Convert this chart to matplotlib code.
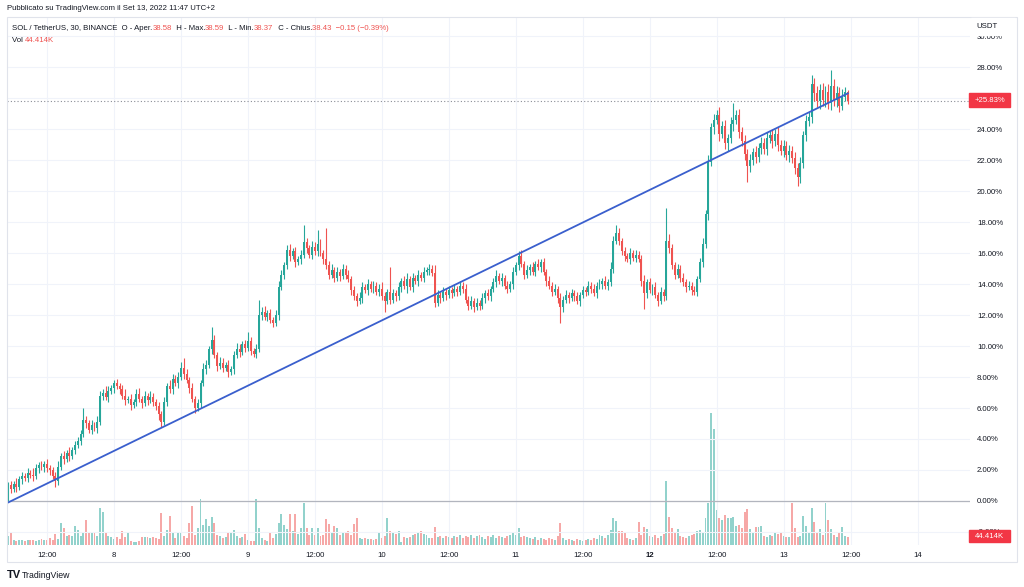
import pandas as pd
import matplotlib.pyplot as plt
from matplotlib.patches import Rectangle
from matplotlib.transforms import Bbox

# SOL/USDT 30m, percent change vs the first bar (base price 30.54)
t0 = pd.Timestamp("2022-09-07 05:00")

closes = [
    1.0, 0.8, 1.1, 0.9, 1.4, 1.6, 1.5, 1.8, 1.7, 1.6, 2.1, 2.3, 2.2, 2.4, 2.1, 2.0, 1.6, 1.3, 2.2, 2.9,
    2.7, 3.1, 2.9, 3.3, 3.6, 3.9, 4.3, 5.2, 5.0, 4.6, 4.9, 4.7, 5.1, 6.8, 7.0, 6.7, 7.1, 7.3, 7.6, 7.4,
    7.2, 6.8, 6.5, 6.6, 6.2, 6.4, 6.9, 6.6, 6.3, 6.8, 6.5, 6.7, 6.4, 6.1, 5.6, 5.1, 6.4, 7.4, 7.2, 7.9,
    7.6, 8.0, 8.6, 8.2, 7.8, 7.3, 6.6, 6.0, 6.3, 7.6, 8.5, 8.8, 9.8, 10.4, 9.4, 8.7, 8.9, 8.6, 8.8, 8.3,
    8.5, 9.4, 9.8, 9.6, 10.1, 9.9, 10.3, 9.7, 9.5, 9.8, 12.0, 12.2, 11.9, 12.1, 11.7, 11.5, 12.0, 13.8, 14.6, 15.2,
    16.2, 15.8, 16.1, 15.4, 15.6, 15.9, 16.7, 16.3, 15.9, 16.4, 16.1, 16.6, 16.0, 15.6, 15.2, 14.6, 14.9, 14.4, 14.8, 14.5,
    15.0, 14.6, 14.3, 13.6, 13.2, 12.9, 13.1, 13.8, 13.6, 14.0, 13.7, 13.9, 13.5, 13.7, 13.2, 12.9, 13.5, 13.0, 13.4, 13.2,
    13.8, 14.2, 13.9, 14.3, 13.8, 14.4, 14.2, 14.6, 14.4, 14.8, 14.9, 15.0, 14.7, 12.8, 13.3, 13.1, 13.5, 13.3, 13.6, 13.4,
    13.7, 13.5, 13.9, 13.7, 13.0, 12.6, 12.9, 12.5, 12.8, 12.6, 13.1, 13.4, 13.2, 13.7, 14.1, 14.5, 14.2, 14.4, 13.9, 13.7,
    14.0, 14.8, 15.2, 15.8, 15.3, 14.6, 14.9, 15.1, 14.8, 15.3, 15.1, 15.4, 14.8, 14.2, 13.9, 13.5, 13.7, 13.1, 12.5, 13.0,
    13.3, 13.1, 13.4, 13.2, 12.9, 13.3, 13.6, 13.5, 13.9, 13.7, 13.4, 13.9, 14.0, 14.2, 13.9, 14.1, 15.0, 16.8, 17.3, 16.8,
    16.1, 15.8, 15.6, 16.0, 15.7, 15.9, 15.6, 14.2, 13.4, 14.1, 13.6, 13.8, 13.3, 12.9, 13.5, 13.2, 16.8, 16.3, 15.2, 14.6,
    15.0, 14.4, 14.1, 13.8, 13.9, 13.6, 13.5, 14.3, 15.4, 16.6, 18.5, 21.9, 24.1, 24.6, 24.9, 23.7, 24.2, 23.1, 23.4, 24.3,
    24.6, 24.9, 23.8, 23.2, 22.4, 21.6, 22.0, 22.5, 22.2, 22.8, 23.1, 22.7, 23.4, 23.6, 23.2, 23.7, 23.0, 22.6, 22.9, 22.3,
    22.6, 22.1, 21.5, 20.9, 21.8, 23.6, 24.5, 24.8, 26.9, 26.3, 25.8, 26.5, 25.9, 26.4, 25.7, 26.8, 25.9, 26.3, 25.5, 26.1,
    26.4, 25.83,
]

# wick length above / below the body, in percent points
upper_wick = [
    0.2, 0.3, 0.2, 0.4, 0.2, 0.3, 0.2, 0.3, 0.2, 0.4, 0.3, 0.2, 0.3, 0.2, 0.3, 0.2, 0.2, 0.3, 0.4, 0.2,
    0.3, 0.2, 0.4, 0.2, 0.3, 0.2, 0.3, 0.8, 0.3, 0.2, 0.3, 0.2, 0.4, 0.3, 0.2, 0.4, 0.3, 0.2, 0.2, 0.3,
    0.2, 0.3, 0.4, 0.2, 0.3, 0.2, 0.3, 0.4, 0.2, 0.3, 0.2, 0.4, 0.3, 0.2, 0.3, 0.2, 0.3, 0.2, 0.4, 0.3,
    0.2, 0.3, 0.4, 0.6, 0.3, 0.2, 0.3, 0.2, 0.3, 0.2, 0.4, 0.3, 0.2, 0.8, 0.3, 0.2, 0.4, 0.3, 0.2, 0.3,
    0.2, 0.3, 0.4, 0.3, 0.2, 0.3, 0.6, 0.3, 0.2, 0.3, 1.0, 0.3, 0.4, 0.2, 0.3, 0.2, 0.3, 0.4, 0.3, 0.2,
    0.3, 0.4, 0.2, 0.3, 0.2, 0.3, 1.1, 0.3, 0.2, 0.4, 0.3, 0.9, 0.3, 0.2, 2.0, 0.3, 0.4, 0.2, 0.3, 0.2,
    0.3, 0.2, 0.3, 0.2, 0.3, 0.2, 0.4, 0.3, 0.2, 0.3, 0.2, 0.3, 0.2, 0.3, 0.4, 0.3, 0.2, 1.6, 0.3, 0.2,
    0.3, 0.2, 0.3, 0.4, 0.2, 0.3, 0.2, 0.3, 0.2, 0.3, 0.2, 0.3, 0.2, 0.5, 0.3, 0.2, 0.3, 0.2, 0.3, 0.2,
    0.3, 0.2, 0.3, 0.2, 0.3, 0.2, 0.3, 0.2, 0.3, 0.2, 0.3, 0.2, 0.3, 0.2, 0.3, 0.4, 0.2, 0.3, 0.2, 0.3,
    0.2, 0.3, 0.2, 0.3, 0.4, 0.2, 0.3, 0.2, 0.3, 0.2, 0.3, 0.2, 0.3, 0.2, 0.3, 0.2, 0.3, 0.2, 0.3, 0.2,
    0.3, 0.2, 0.3, 0.2, 0.3, 0.2, 0.3, 0.2, 0.3, 0.2, 0.3, 0.2, 0.3, 0.2, 0.3, 0.2, 0.4, 0.3, 0.5, 0.3,
    0.2, 0.3, 0.2, 0.3, 0.2, 0.3, 0.2, 0.3, 0.4, 0.2, 0.3, 0.2, 0.3, 0.2, 0.3, 0.2, 2.1, 0.4, 0.3, 0.2,
    0.3, 0.2, 0.3, 0.2, 0.3, 0.2, 0.3, 0.2, 0.3, 0.4, 0.3, 0.4, 0.3, 0.4, 0.3, 0.5, 0.3, 0.4, 0.3, 0.5,
    1.1, 0.3, 0.4, 0.3, 0.4, 0.3, 0.4, 0.3, 0.4, 0.3, 0.4, 0.3, 0.4, 0.3, 0.4, 0.3, 0.4, 0.3, 0.4, 0.3,
    0.4, 0.3, 0.4, 0.3, 0.4, 0.3, 0.4, 0.3, 0.6, 0.4, 0.5, 0.4, 0.5, 0.4, 0.5, 1.0, 0.4, 0.5, 0.4, 0.5,
    0.3, 0.1,
]
lower_wick = [
    0.0, 0.3, 0.2, 0.3, 0.2, 0.3, 0.2, 0.3, 0.2, 0.3, 0.2, 0.3, 0.2, 0.3, 0.2, 0.3, 0.2, 0.4, 0.3, 0.2,
    0.3, 0.2, 0.3, 0.2, 0.3, 0.2, 0.3, 0.2, 0.3, 0.2, 0.3, 0.2, 0.3, 0.2, 0.3, 0.2, 0.3, 0.2, 0.3, 0.2,
    0.3, 0.2, 0.3, 0.2, 0.3, 0.2, 0.3, 0.2, 0.3, 0.2, 0.3, 0.2, 0.3, 0.2, 0.4, 0.3, 0.2, 0.3, 0.2, 0.3,
    0.2, 0.3, 0.2, 0.3, 0.2, 0.3, 0.2, 0.3, 0.2, 0.3, 0.2, 0.3, 0.2, 0.3, 0.2, 0.3, 0.2, 0.3, 0.2, 0.3,
    0.2, 0.3, 0.2, 0.3, 0.2, 0.3, 0.2, 0.3, 0.2, 0.3, 0.2, 0.3, 0.2, 0.3, 0.2, 0.3, 0.2, 0.3, 0.2, 0.3,
    0.2, 0.3, 0.2, 0.3, 0.2, 0.3, 0.2, 0.3, 0.2, 0.3, 0.2, 0.3, 0.2, 0.3, 0.2, 0.3, 0.2, 0.3, 0.2, 0.3,
    0.2, 0.3, 0.2, 0.3, 0.2, 0.3, 0.2, 0.3, 0.2, 0.3, 0.2, 0.3, 0.2, 0.3, 0.2, 0.7, 0.2, 0.3, 0.2, 0.3,
    0.2, 0.3, 0.2, 0.5, 0.2, 0.3, 0.2, 0.3, 0.2, 0.3, 0.2, 0.3, 0.2, 0.3, 0.2, 0.3, 0.2, 0.3, 0.2, 0.3,
    0.2, 0.3, 0.2, 0.3, 0.2, 0.3, 0.2, 0.3, 0.2, 0.3, 0.2, 0.3, 0.2, 0.3, 0.2, 0.3, 0.2, 0.3, 0.2, 0.3,
    0.2, 0.3, 0.2, 0.3, 0.2, 0.3, 0.2, 0.3, 0.2, 0.3, 0.2, 0.3, 0.2, 0.3, 0.2, 0.3, 0.2, 0.3, 1.0, 0.3,
    0.2, 0.3, 0.2, 0.3, 0.2, 0.3, 0.2, 0.3, 0.2, 0.3, 0.2, 0.3, 0.2, 0.3, 0.2, 0.3, 0.2, 0.3, 0.2, 0.3,
    0.2, 0.3, 0.2, 0.3, 0.2, 0.3, 0.2, 0.3, 1.0, 0.3, 0.2, 0.3, 0.2, 0.3, 0.2, 0.3, 0.2, 0.3, 0.2, 0.3,
    0.2, 0.3, 0.2, 0.3, 0.2, 0.3, 0.2, 0.3, 0.2, 0.3, 0.3, 0.4, 0.3, 0.4, 0.3, 0.5, 0.3, 0.4, 0.5, 0.3,
    0.4, 0.3, 0.4, 0.3, 0.4, 1.0, 0.4, 0.3, 0.4, 0.3, 0.4, 0.3, 0.4, 0.3, 0.4, 0.3, 0.4, 0.3, 0.4, 0.3,
    0.4, 0.3, 0.4, 0.6, 0.4, 0.3, 0.4, 0.3, 0.4, 0.5, 0.4, 0.5, 0.4, 0.5, 0.4, 0.5, 0.4, 0.5, 0.4, 0.3,
    0.3, 0.2,
]

# volume in thousands
volume_k = [
    50, 66, 28, 22, 28, 27, 23, 28, 27, 28, 22, 28, 33, 27, 28, 39, 28, 61, 33, 121,
    94, 50, 55, 50, 105, 83, 50, 66, 138, 66, 72, 66, 50, 204, 182, 66, 50, 44, 33, 44,
    33, 77, 44, 66, 22, 17, 17, 22, 44, 44, 44, 39, 44, 39, 33, 176, 50, 83, 160, 66,
    39, 72, 66, 50, 39, 121, 215, 55, 94, 253, 110, 143, 105, 154, 121, 55, 50, 39, 44, 66,
    72, 83, 50, 39, 44, 61, 28, 22, 22, 253, 94, 39, 28, 22, 72, 39, 61, 121, 171, 110,
    88, 171, 77, 171, 61, 94, 231, 94, 55, 94, 55, 94, 50, 55, 143, 116, 66, 105, 94, 55,
    66, 66, 77, 55, 116, 149, 39, 33, 39, 33, 33, 28, 33, 72, 39, 50, 149, 77, 66, 61,
    77, 17, 44, 39, 44, 55, 61, 66, 77, 61, 55, 39, 39, 99, 44, 50, 39, 50, 44, 39,
    50, 44, 55, 39, 50, 44, 55, 39, 50, 55, 44, 33, 50, 44, 55, 39, 50, 44, 39, 50,
    55, 72, 55, 94, 44, 50, 44, 39, 33, 44, 28, 39, 33, 28, 39, 33, 28, 50, 121, 39,
    28, 33, 28, 22, 33, 28, 22, 28, 33, 28, 39, 33, 55, 50, 39, 55, 83, 149, 132, 77,
    77, 72, 39, 33, 28, 39, 127, 55, 99, 88, 50, 44, 55, 39, 50, 61, 352, 154, 94, 66,
    88, 50, 44, 39, 50, 55, 61, 77, 83, 66, 149, 231, 726, 638, 193, 149, 138, 165, 149, 149,
    154, 105, 110, 94, 182, 198, 88, 66, 99, 99, 105, 50, 44, 55, 50, 66, 61, 66, 50, 44,
    44, 231, 94, 44, 50, 160, 105, 66, 204, 127, 72, 88, 55, 231, 138, 88, 55, 44, 72, 99,
    50, 44.414,
]

# trend line drawn on the chart (time, percent)
trend_from = ("2022-09-07 05:00", -0.1)
trend_to = ("2022-09-13 11:30", 26.3)

last_pct = 25.83
green = "#26a69a"
red = "#ef5350"
text_col = "#131722"
fs = 5.6

W, H = 1024, 587


def fx(px):
    return px / W


def fy(py):
    return 1 - py / H


def idx(ts):
    return (pd.Timestamp(ts) - t0) / pd.Timedelta("30min")


n = len(closes)
xs = list(range(n))
opens = [0.0] + closes[:-1]
cols = [green if c >= o else red for o, c in zip(opens, closes)]
highs = [max(o, c) + u for o, c, u in zip(opens, closes, upper_wick)]
lows = [min(o, c) - d for o, c, d in zip(opens, closes, lower_wick)]

plt.rcParams["font.family"] = ["Liberation Sans", "DejaVu Sans"]
fig = plt.figure(figsize=(10.24, 5.87), dpi=100)
rect = [fx(7), fy(545), fx(970) - fx(7), fy(17) - fy(545)]

# --- volume pane (behind) ---
axv = fig.add_axes(rect)
vol_cols = [(0.149, 0.651, 0.604, 0.5) if c == green else (0.937, 0.325, 0.314, 0.5) for c in cols]
axv.bar(xs, volume_k, width=0.7, color=vol_cols, linewidth=0)
axv.set_ylim(0, 2904)
axv.set_xlim(-0.36, 344.8)
axv.axis("off")

# --- price pane ---
ax = fig.add_axes(rect)
ax.patch.set_visible(False)
ax.set_xlim(-0.36, 344.8)
ax.set_ylim(-2.84, 31.23)

ax.vlines(xs, lows, highs, colors=cols, linewidth=0.8, zorder=3)
body_lo = [min(o, c) for o, c in zip(opens, closes)]
body_h = [max(abs(c - o), 0.06) for o, c in zip(opens, closes)]
ax.bar(xs, body_h, bottom=body_lo, width=0.7, color=cols, linewidth=0, zorder=4)

ax.plot([idx(trend_from[0]), idx(trend_to[0])], [trend_from[1], trend_to[1]],
        color="#3a5fcd", linewidth=1.3, zorder=5)

ax.axhline(0, color="#b2b5be", linewidth=0.9, zorder=2)
ax.axhline(last_pct, color="#8a8d96", linewidth=0.8, linestyle=(0, (1, 2)), zorder=2)

tick_times = pd.date_range("2022-09-07 12:00", "2022-09-14 00:00", freq="12h")
tick_pos = [idx(t) for t in tick_times]
tick_lab = ["12:00" if t.hour == 12 else str(t.day) for t in tick_times]
ax.set_xticks(tick_pos)
ax.set_xticklabels(tick_lab)
for t, lab in zip(tick_times, ax.get_xticklabels()):
    if t.hour == 0 and t.dayofweek == 0:
        lab.set_fontweight("bold")

# 26% sits under the last-price tag, so it is not shown
yt = list(range(-2, 31, 2))
ax.yaxis.tick_right()
ax.set_yticks(yt)
ax.set_yticklabels(["" if v == 26 else f"{v:.2f}%" for v in yt])
ax.tick_params(length=0, labelsize=fs, colors=text_col)
ax.tick_params(axis="y", pad=5)
ax.tick_params(axis="x", pad=5)
ax.grid(True, color="#f0f3fa", linewidth=0.8)
ax.set_axisbelow(True)
for s in ax.spines.values():
    s.set_visible(False)

# -2% label only peeks out above the volume tag
fig.canvas.draw()
for v, lab in zip(yt, ax.get_yticklabels()):
    if v == -2:
        lab.set_clip_box(Bbox.from_extents(960, H - 530, 1024, H))
        lab.set_clip_on(True)

# outer frame
fig.patches.append(Rectangle((fx(7), fy(562)), fx(1017) - fx(7), fy(17) - fy(562),
                             transform=fig.transFigure, fill=False, edgecolor="#e0e3eb", linewidth=0.8))
# top of the 30% label is hidden under the USDT caption
fig.patches.append(Rectangle((fx(971), fy(35)), fx(1015) - fx(971), fy(18) - fy(35),
                             transform=fig.transFigure, color="white", zorder=2))
fig.text(fx(976), fy(26), "USDT", fontsize=fs, color=text_col, va="center", zorder=4)

# price / volume tags on the right scale
for py0, py1, txt in [(93, 107, f"+{last_pct:.2f}%"), (530, 542, f"{volume_k[-1]:.3f}K")]:
    fig.patches.append(Rectangle((fx(969), fy(py1)), fx(1010) - fx(969), fy(py0) - fy(py1),
                                 transform=fig.transFigure, color="#f23645", zorder=2))
    fig.text(fx(989.5), fy((py0 + py1) / 2), txt, fontsize=fs, color="white",
             ha="center", va="center", zorder=4)

# header
fig.text(fx(7), fy(8), "Pubblicato su TradingView.com il Set 13, 2022 11:47 UTC+2",
         fontsize=fs, color=text_col, va="center")

parts = [
    ("SOL / TetherUS, 30, BINANCE  O - Aper.", text_col), ("38.58", red),
    ("  H - Max.", text_col), ("38.59", red),
    ("  L - Min.", text_col), ("38.37", red),
    ("  C - Chius.", text_col), ("38.43  \u22120.15 (\u22120.39%)", red),
]
prev = fig.text(fx(12), fy(32), parts[0][0], fontsize=fs, color=parts[0][1], va="bottom")
for txt, c in parts[1:]:
    prev = ax.annotate(txt, xy=(1, 0), xycoords=prev, fontsize=fs, color=c,
                       va="bottom", ha="left", annotation_clip=False)

prev = fig.text(fx(12), fy(44), "Vol ", fontsize=fs, color=text_col, va="bottom")
ax.annotate(f"{volume_k[-1]:.3f}K", xy=(1, 0), xycoords=prev, fontsize=fs, color=red,
            va="bottom", ha="left", annotation_clip=False)

# logo
fig.text(fx(7), fy(575), "TV", fontsize=8, fontweight="bold", color=text_col, va="center")
fig.text(fx(22), fy(575), "TradingView", fontsize=6.3, color=text_col, va="center")

fig.savefig("out.png", dpi=100, facecolor="white")
